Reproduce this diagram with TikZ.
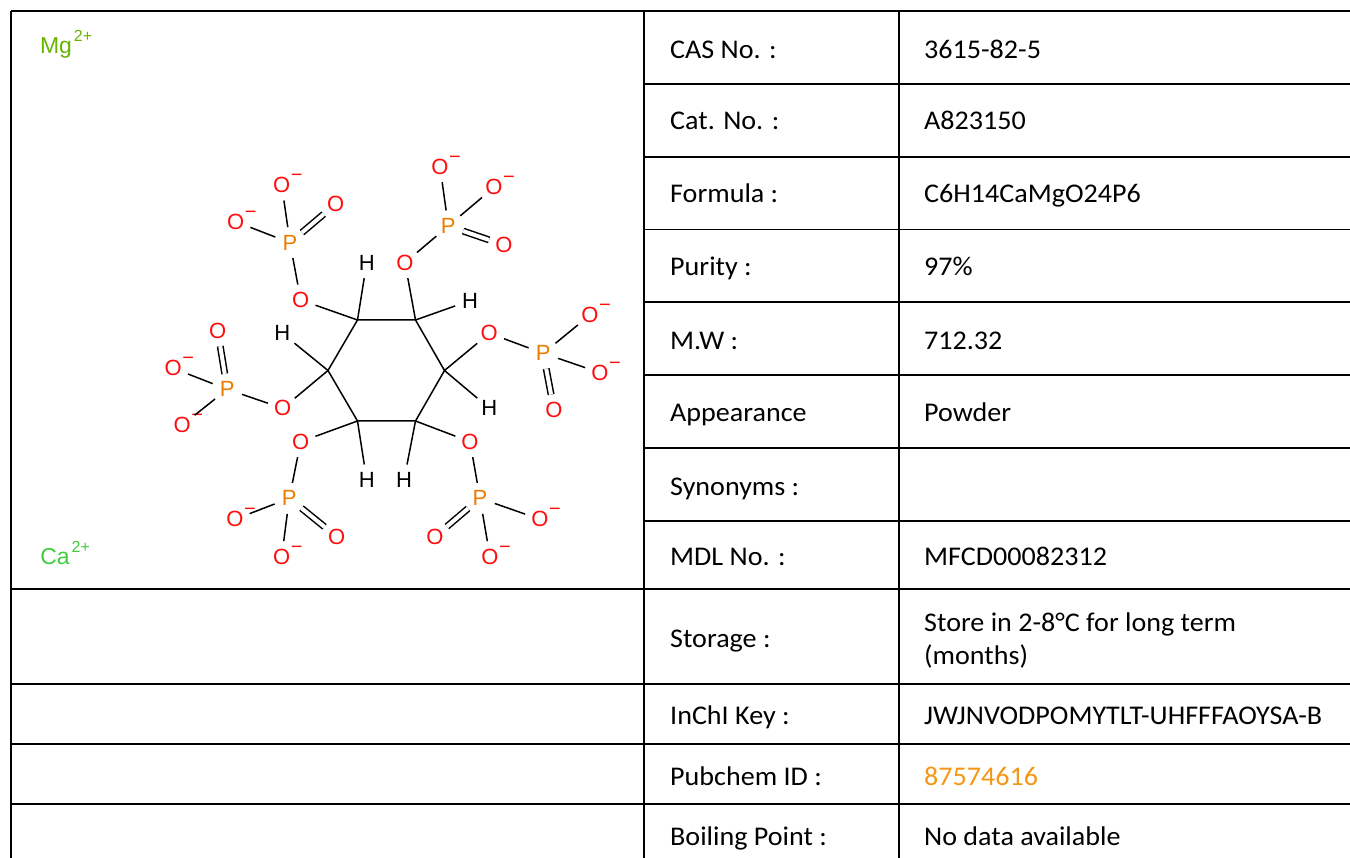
\documentclass[tikz,border=0pt]{standalone}
\usepackage{fontspec}
\setmainfont{Carlito}[FakeStretch=1.04]
\newfontfamily\molfont{Liberation Sans}
\definecolor{ored}{RGB}{255,13,13}
\definecolor{porange}{RGB}{235,125,0}
\definecolor{mggreen}{RGB}{100,180,0}
\definecolor{cagreen}{RGB}{61,205,61}
\definecolor{pubchem}{RGB}{245,150,20}
\newcommand{\minusq}{\smash{\rlap{\kern0.5pt\raisebox{11pt}{\fontsize{20}{20}\selectfont −}}}}
\newcommand{\chg}[1]{\smash{\rlap{\kern2pt\raisebox{12pt}{\fontsize{16}{16}\selectfont #1}}}}
\tikzset{
  atom/.style={circle,inner sep=0pt,minimum size=31pt,font=\molfont\fontsize{22}{22}\selectfont},
  oxy/.style={atom,text=ored},
  phos/.style={atom,text=porange},
  hyd/.style={atom,text=black},
  bond/.style={line width=1.5pt,black},
  dbond/.style={bond,double,double distance=4pt},
  grid/.style={line width=1.6pt,black},
  lab/.style={anchor=base west,inner sep=0pt,font=\fontsize{27}{33}\selectfont},
  ion/.style={inner sep=0pt,font=\molfont\fontsize{23}{23}\selectfont}
}
\begin{document}
\begin{tikzpicture}[x=1pt,y=-1pt]
\useasboundingbox (0,0) rectangle (1350,858);
% table lines
\draw[grid] (11,11) -- (1350,11);
\draw[grid] (11,11) -- (11,858);
\draw[grid] (644,11) -- (644,858);
\draw[grid] (899,11) -- (899,858);
\foreach \yy in {84,157,229.5,302,375,448,521}
  \draw[grid] (644,\yy) -- (1350,\yy);
\foreach \yy in {589,684,744,804}
  \draw[grid] (11,\yy) -- (1350,\yy);
% labels
\node[lab] (l1) at (670,58.3) {CAS No. :};
\node[lab] (v1) at (924,58.3) {3615-82-5};
\node[lab] (l2) at (670,129.3) {Cat. No. :};
\node[lab] (v2) at (924,129.3) {A823150};
\node[lab] (l3) at (670,202.7) {Formula :};
\node[lab] (v3) at (924,202.7) {C6H14CaMgO24P6};
\node[lab] (l4) at (670,276) {Purity :};
\node[lab] (v4) at (924,276) {97\%};
\node[lab] (l5) at (670,349.5) {M.W :};
\node[lab] (v5) at (924,349.5) {712.32};
\node[lab] (l6) at (670,422) {Appearance};
\node[lab] (v6) at (924,422) {Powder};
\node[lab] (l7) at (670,495) {Synonyms :};
\node[lab] (l8) at (670,565.5) {MDL No. :};
\node[lab] (v8) at (924,565.5) {MFCD00082312};
\node[lab] (l9) at (670,647) {Storage :};
\node[lab,align=left] (v9) at (924,664) {Store in 2-8°C for long term\\(months)};
\node[lab] (l10) at (670,724) {InChI Key :};
\node[lab] (v10) at (924,724) {JWJNVODPOMYTLT-UHFFFAOYSA-B};
\node[lab] (l11) at (670,785) {Pubchem ID :};
\node[lab,text=pubchem] (v11) at (924,785) {87574616};
\node[lab] (l12) at (670,845) {Boiling Point :};
\node[lab] (v12) at (924,845) {No data available};
% ions
\node[ion,text=mggreen] (mg) at (56,48) {Mg\chg{2+}};
\node[ion,text=cagreen] (ca) at (55,557) {Ca\chg{2+}};
% ring carbons
\coordinate (c1) at (357.5,320);
\coordinate (c2) at (415.5,320);
\coordinate (c3) at (444.5,370.5);
\coordinate (c4) at (415.5,421);
\coordinate (c5) at (357.5,421);
\coordinate (c6) at (328,370.5);
% group 1
\node[oxy] (o1) at (300.7,300) {O};
\node[hyd] (h1) at (366.7,262.7) {H};
\node[phos] (p1) at (290,242.7) {P};
\node[oxy] (o1a) at (281.7,185) {O\minusq};
\node[oxy] (o1b) at (235.7,221.7) {O\minusq};
\node[oxy] (o1c) at (335.7,204) {O};
% group 2
\node[oxy] (o2) at (405,262.7) {O};
\node[hyd] (h2) at (470,300.7) {H};
\node[phos] (p2) at (448.3,226) {P};
\node[oxy] (o2a) at (440,166.7) {O\minusq};
\node[oxy] (o2b) at (494,187.3) {O\minusq};
\node[oxy] (o2c) at (504,245) {O};
% group 3
\node[oxy] (o3) at (489.3,333.3) {O};
\node[hyd] (h3) at (489.3,408.3) {H};
\node[phos] (p3) at (543.3,353.3) {P};
\node[oxy] (o3a) at (590,315) {O\minusq};
\node[oxy] (o3b) at (600,372.7) {O\minusq};
\node[oxy] (o3c) at (554,410) {O};
% group 4
\node[oxy] (o4) at (470,441.7) {O};
\node[hyd] (h4) at (404,480) {H};
\node[phos] (p4) at (480,498.3) {P};
\node[oxy] (o4a) at (540,519.3) {O\minusq};
\node[oxy] (o4b) at (490,556.7) {O\minusq};
\node[oxy] (o4c) at (435,536.7) {O};
% group 5
\node[oxy] (o5) at (300.7,441.7) {O};
\node[hyd] (h5) at (366.7,480) {H};
\node[phos] (p5) at (289.3,498.3) {P};
\node[oxy] (o5a) at (235,519.3) {O\minusq};
\node[oxy] (o5b) at (281.7,556.7) {O\minusq};
\node[oxy] (o5c) at (336.7,536.7) {O};
% group 6
\node[oxy] (o6) at (282.7,408.3) {O};
\node[hyd] (h6) at (282.3,333.3) {H};
\node[phos] (p6) at (227.3,389.3) {P};
\node[oxy] (o6a) at (173.3,368.3) {O\minusq};
\node[oxy] (o6b) at (182.3,425) {O\minusq};
\node[oxy] (o6c) at (217.7,330.7) {O};
% ring bonds
\draw[bond,line join=round] (c1) -- (c2) -- (c3) -- (c4) -- (c5) -- (c6) -- cycle;
% substituent bonds
\foreach \i in {1,...,6}{
  \draw[bond] (c\i) -- (o\i);
  \draw[bond] (c\i) -- (h\i);
  \draw[bond] (o\i) -- (p\i);
  \draw[bond] (p\i) -- (o\i a);
  \draw[bond] (p\i) -- (o\i b);
  \draw[dbond] (p\i) -- (o\i c);
}
\end{tikzpicture}
\end{document}
